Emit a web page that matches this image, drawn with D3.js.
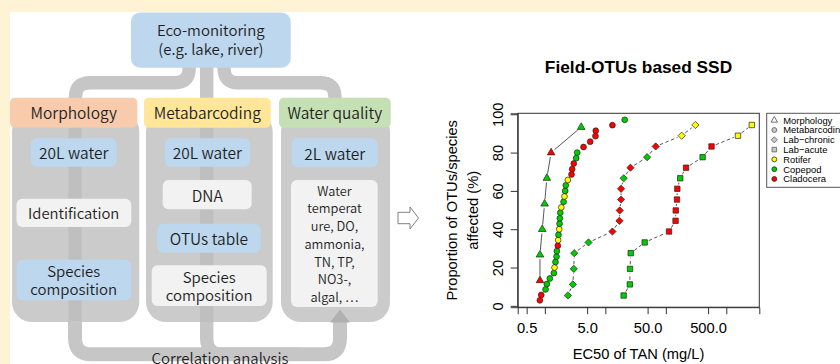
<!DOCTYPE html>
<html><head><meta charset="utf-8">
<script src="https://cdn.jsdelivr.net/npm/d3@7"></script>
<style>
html,body{margin:0;padding:0;background:#fff3d6;}
svg{display:block;}
</style></head><body>
<svg id="fig" width="840" height="364"></svg>
<script>
// ---- SSD data: EC50 of total ammonia nitrogen (mg/L) vs. proportion affected (%) ----
const morphEC50 = [0.83, 0.83, 0.906, 0.99, 1.08, 1.27, 3.99];
const morphPct  = [13.3, 26.7, 40.0, 53.3, 66.7, 80.0, 93.3];
const morphGroup = ["Cladocera","Copepod","Copepod","Copepod","Copepod","Cladocera","Copepod"];

const metaEC50 = [0.827,0.872,1.027,1.079,1.21,1.41,1.446,1.50,1.56,1.58,1.64,1.66,1.68,1.73,1.75,1.77,1.80,1.87,
                  2.04,2.11,2.17,2.22,2.40,2.76,2.83,3.01,3.30,3.43,4.36,5.62,6.87,6.95,13.1,20.9];
const metaPct  = [2.9,5.7,8.6,11.4,14.3,17.1,20.0,22.9,25.7,28.6,31.4,34.3,37.1,40.0,42.9,45.7,48.6,51.4,
                  54.3,57.1,60.0,62.9,65.7,68.6,71.4,74.3,77.1,80.0,82.9,85.7,88.6,91.4,94.3,97.1];
const metaGroup = ["Cladocera","Cladocera","Copepod","Copepod","Copepod","Copepod","Rotifer","Copepod","Copepod",
                   "Copepod","Cladocera","Rotifer","Copepod","Rotifer","Copepod","Copepod","Copepod","Rotifer",
                   "Copepod","Rotifer","Copepod","Copepod","Rotifer","Cladocera","Cladocera","Cladocera","Copepod",
                   "Copepod","Cladocera","Cladocera","Cladocera","Cladocera","Cladocera","Copepod"];

const chronicEC50 = [2.40, 2.90, 3.01, 3.06, 5.27, 13.1, 17.1, 17.3, 18.2, 18.2, 20.1, 26.0, 49.0, 68.0, 183, 308];
const acuteEC50   = [20.1, 25.4, 25.6, 26.3, 44.7, 113, 145, 146, 153, 155, 173, 216, 406, 570, 1560, 2640];
const labPct      = [5.4, 11.2, 19.3, 27.5, 33.1, 38.8, 44.4, 49.8, 55.5, 61.1, 66.6, 72.1, 77.6, 83.2, 88.8, 94.4];
const labGroup    = ["Copepod","Copepod","Copepod","Copepod","Copepod","Cladocera","Cladocera","Cladocera",
                     "Cladocera","Cladocera","Copepod","Cladocera","Copepod","Cladocera","Rotifer","Rotifer"];

const xTicks = [0.5, 1, 5, 10, 50, 100, 500, 1000];
const xTickLabels = ["0.5", "", "5.0", "", "50.0", "", "500.0", ""];
const yTicks = [0, 20, 40, 60, 80, 100];
const legendLabels = ["Morphology", "Metabarcoding", "Lab\u2212chronic", "Lab\u2212acute", "Rotifer", "Copepod", "Cladocera"];
const groupColor = {Rotifer: "#ffff00", Copepod: "#00cd00", Cladocera: "#ff0000"};

const svg = d3.select("#fig");
const FLOW_FONT = "'Noto Sans CJK SC', 'Noto Sans', sans-serif";
const PLOT_FONT = "'Liberation Sans', Arial, sans-serif";
const textCol = "#1e1e1e";

// ---------- workflow diagram ----------
svg.append("rect").attr("x", 10).attr("y", 12).attr("width", 830).attr("height", 352).attr("fill", "#ffffff");

const flow = svg.append("g");
const connCol = "#c6c6c6", panelCol = "#cbcbcb", bandCol = "#bfbfbf";

// branches from the monitoring box to the three methods
flow.append("rect").attr("x", 200).attr("y", 66).attr("width", 13.4).attr("height", 33).attr("fill", connCol);
flow.append("path").attr("d", "M189.2,64 V68 Q189.2,82.7 175,82.7 H90 Q75.5,82.7 75.5,97 V100")
  .attr("fill", "none").attr("stroke", connCol).attr("stroke-width", 13.4);
flow.append("path").attr("d", "M224,64 V68 Q224,82.7 238,82.7 H320 Q335,82.7 335,97 V100")
  .attr("fill", "none").attr("stroke", connCol).attr("stroke-width", 13.4);

// correlation loop along the bottom
flow.append("path").attr("d", "M75,315 V338 Q75,354.3 91.3,354.3 H324 Q340,354.3 340,338 V318")
  .attr("fill", "none").attr("stroke", connCol).attr("stroke-width", 14);
flow.append("path").attr("d", "M206.7,315 V338 Q206.7,354.3 223,354.3 H300")
  .attr("fill", "none").attr("stroke", connCol).attr("stroke-width", 13.4);

// column panels
const panels = [[12, 139.3], [146, 272.7], [281, 390]];
panels.forEach(([x0, x1]) => {
  flow.append("rect").attr("x", x0).attr("y", 112).attr("width", x1 - x0).attr("height", 210)
    .attr("rx", 20).attr("fill", panelCol);
});
// flow bands running through the sample-processing columns
flow.append("rect").attr("x", 68.3).attr("y", 120).attr("width", 13.4).attr("height", 202).attr("fill", bandCol);
flow.append("rect").attr("x", 200).attr("y", 120).attr("width", 13.4).attr("height", 202).attr("fill", bandCol);
flow.append("rect").attr("x", 68.3).attr("y", 321).attr("width", 13.4).attr("height", 4).attr("fill", connCol);

// up arrow into the water-quality column
flow.append("polygon").attr("points", "330,322.5 340,309.5 350,322.5").attr("fill", "#b0b0b0");

// monitoring box
flow.append("rect").attr("x", 131).attr("y", 12.5).attr("width", 159.7).attr("height", 55.2).attr("rx", 9).attr("fill", "#bdd7ee");

// method headers
const headers = [
  {x0: 10, x1: 137.3, fill: "#f8cbad", label: "Morphology"},
  {x0: 144, x1: 270.7, fill: "#ffe699", label: "Metabarcoding"},
  {x0: 279, x1: 390.7, fill: "#c5e0b4", label: "Water quality"}
];
headers.forEach(h => {
  flow.append("rect").attr("x", h.x0).attr("y", 97.7).attr("width", h.x1 - h.x0).attr("height", 30)
    .attr("rx", 5).attr("fill", h.fill);
});

// inner boxes
const boxes = [
  {x0: 30.7, x1: 116.7, y0: 138.3, y1: 166.7, fill: "#bdd7ee"},
  {x0: 16.5, x1: 131.3, y0: 198.7, y1: 227, fill: "#f2f2f2"},
  {x0: 16.5, x1: 131.3, y0: 259.7, y1: 300.3, fill: "#bdd7ee"},
  {x0: 164.7, x1: 250, y0: 138.3, y1: 166.7, fill: "#bdd7ee"},
  {x0: 162.7, x1: 251.7, y0: 180, y1: 209.3, fill: "#f2f2f2"},
  {x0: 157.3, x1: 260.7, y0: 223.7, y1: 252.7, fill: "#bdd7ee"},
  {x0: 151.7, x1: 266.7, y0: 265.3, y1: 306, fill: "#f2f2f2"},
  {x0: 291.7, x1: 377.7, y0: 138.3, y1: 167.3, fill: "#bdd7ee"},
  {x0: 291, x1: 377.7, y0: 180, y1: 307, fill: "#f2f2f2"}
];
boxes.forEach(b => {
  flow.append("rect").attr("x", b.x0).attr("y", b.y0).attr("width", b.x1 - b.x0).attr("height", b.y1 - b.y0)
    .attr("rx", 6).attr("fill", b.fill);
});

// diagram text
const flowText = [
  [210.8, 35.7, "Eco-monitoring", 15], [210.8, 55, "(e.g. lake, river)", 15],
  [73.7, 119, "Morphology", 15.5], [207.3, 119, "Metabarcoding", 15.5], [334.8, 119, "Water quality", 15.5],
  [73.7, 159, "20L water", 15.5], [207.3, 159, "20L water", 15.5], [334.7, 159.8, "2L water", 15.5],
  [73.7, 219, "Identification", 14.8], [73.7, 277, "Species", 15], [73.7, 295, "composition", 15],
  [207.2, 202, "DNA", 15.5], [209, 245.2, "OTUs table", 15.5],
  [209.2, 282.5, "Species", 15], [209.2, 301, "composition", 15],
  [334.5, 195.5, "Water", 12.8], [334.5, 213.2, "temperat", 12.8], [334.5, 231, "ure, DO,", 12.8],
  [334.5, 248.8, "ammonia,", 12.8], [334.5, 266.5, "TN, TP,", 12.8], [334.5, 284.3, "NO3-,", 12.8],
  [334.5, 302, "algal, \u22ef", 12.8],
  [220, 364.3, "Correlation analysis", 15]
];
flowText.forEach(([x, y, t, fs]) => {
  flow.append("text").attr("x", x).attr("y", y).attr("text-anchor", "middle")
    .attr("font-family", FLOW_FONT).attr("font-weight", 350).attr("font-size", fs).attr("fill", textCol).text(t);
});

// hollow arrow pointing to the SSD plot
flow.append("polygon").attr("points", "398,212.3 410,212.3 410,207 418.5,218 410,229 410,223.7 398,223.7")
  .attr("fill", "#ffffff").attr("stroke", "#808080").attr("stroke-width", 1);

// ---------- SSD plot ----------
const plotL = 517.7, plotR = 759.3, plotT = 113.3, plotB = 307.2;
const xLim = [0.5, 2500];
const lx = xLim.map(Math.log10), padX = (lx[1] - lx[0]) * 0.04;
const x = d3.scaleLog().domain([Math.pow(10, lx[0] - padX), Math.pow(10, lx[1] + padX)]).range([plotL, plotR]);
const y = d3.scaleLinear().domain([-0.7, 100.5]).range([plotB, plotT]);

const plot = svg.append("g").attr("font-family", PLOT_FONT);

plot.append("text").attr("x", (plotL + plotR) / 2).attr("y", 73.3).attr("text-anchor", "middle")
  .attr("font-size", 17.3).attr("font-weight", "bold").attr("fill", "#000").text("Field-OTUs based SSD");

const xAxis = d3.axisBottom(x).tickValues(xTicks).tickFormat((d, i) => xTickLabels[i]).tickSizeOuter(0).tickSize(7).tickPadding(3);
const gx = plot.append("g").attr("transform", `translate(0,${plotB})`).call(xAxis);
gx.selectAll("text").attr("font-size", 14.7).attr("font-family", PLOT_FONT).attr("fill", "#000").attr("dy", null).attr("y", 25.5);
gx.selectAll("line").attr("stroke", "#333");
gx.select(".domain").attr("stroke", "#333");

const yAxis = d3.axisLeft(y).tickValues(yTicks).tickSizeOuter(0).tickSize(7);
const gy = plot.append("g").attr("transform", `translate(${plotL},0)`).call(yAxis);
gy.selectAll("text").attr("font-size", 14.7).attr("font-family", PLOT_FONT).attr("fill", "#000")
  .attr("transform", "rotate(-90)").attr("x", 0).attr("y", -14.7).attr("dy", null).attr("text-anchor", "middle");
gy.selectAll("line").attr("stroke", "#333");
gy.select(".domain").attr("stroke", "#333");

plot.append("rect").attr("x", plotL).attr("y", plotT).attr("width", plotR - plotL).attr("height", plotB - plotT)
  .attr("fill", "none").attr("stroke", "#333").attr("stroke-width", 1);

plot.append("text").attr("x", (plotL + plotR) / 2).attr("y", 359).attr("text-anchor", "middle")
  .attr("font-size", 14.7).attr("fill", "#000").text("EC50 of TAN (mg/L)");
const yLabelCenter = (plotT + plotB) / 2;
[["Proportion of OTUs/species", 456.5], ["affected (%)", 477.5]].forEach(([t, bx]) => {
  plot.append("text").attr("transform", `translate(${bx},${yLabelCenter}) rotate(-90)`).attr("text-anchor", "middle")
    .attr("font-size", 14.7).attr("fill", "#000").text(t);
});

// connecting lines with gaps around the points
function gappedLine(xs, ys, dash) {
  const gap = 4.5;
  for (let i = 0; i < xs.length - 1; i++) {
    const x0 = x(xs[i]), y0 = y(ys[i]), x1 = x(xs[i + 1]), y1 = y(ys[i + 1]);
    const L = Math.hypot(x1 - x0, y1 - y0);
    if (L <= 2 * gap) continue;
    const ux = (x1 - x0) / L, uy = (y1 - y0) / L;
    plot.append("line")
      .attr("x1", x0 + ux * gap).attr("y1", y0 + uy * gap)
      .attr("x2", x1 - ux * gap).attr("y2", y1 - uy * gap)
      .attr("stroke", "#444").attr("stroke-width", 0.9)
      .attr("stroke-dasharray", dash);
  }
}
gappedLine(morphEC50, morphPct, null);
gappedLine(chronicEC50, labPct, "3.5,2.5");
gappedLine(acuteEC50, labPct, "3.5,2.5");

const shapes = {
  triangle: "M0,-4.3 L3.8,2.3 L-3.8,2.3 Z",
  diamond: "M0,-3.6 L3.6,0 L0,3.6 L-3.6,0 Z",
  square: "M-2.7,-2.7 H2.7 V2.7 H-2.7 Z",
  circle: d3.symbol(d3.symbolCircle, Math.PI * 2.9 * 2.9)()
};
function points(xs, ys, groups, shape) {
  plot.append("g").selectAll("path").data(xs.map((v, i) => ({v, p: ys[i], g: groups[i]})))
    .join("path")
    .attr("transform", d => `translate(${x(d.v)},${y(d.p)})`)
    .attr("d", shapes[shape])
    .attr("fill", d => groupColor[d.g])
    .attr("stroke", "#222").attr("stroke-width", 0.7);
}
points(metaEC50, metaPct, metaGroup, "circle");
points(chronicEC50, labPct, labGroup, "diamond");
points(acuteEC50, labPct, labGroup, "square");
points(morphEC50, morphPct, morphGroup, "triangle");

// legend
const lg = plot.append("g");
lg.append("rect").attr("x", 766.7).attr("y", 113.3).attr("width", 90).attr("height", 74)
  .attr("fill", "#fff").attr("stroke", "#555").attr("stroke-width", 1);
const legendSym = [
  {shape: "triangle", fill: "none", stroke: "#444"},
  {shape: "circle", fill: "#c8c8c8", stroke: "#555"},
  {shape: "diamond", fill: "#c8c8c8", stroke: "#555"},
  {shape: "square", fill: "#c8c8c8", stroke: "#555"},
  {shape: "circle", fill: groupColor.Rotifer, stroke: "#222"},
  {shape: "circle", fill: groupColor.Copepod, stroke: "#222"},
  {shape: "circle", fill: groupColor.Cladocera, stroke: "#222"}
];
legendLabels.forEach((t, i) => {
  const cy = 120.2 + i * 9.8;
  lg.append("path").attr("transform", `translate(774.3,${cy}) scale(0.85)`).attr("d", shapes[legendSym[i].shape])
    .attr("fill", legendSym[i].fill).attr("stroke", legendSym[i].stroke).attr("stroke-width", 0.9);
  lg.append("text").attr("x", 783.3).attr("y", cy + 3.4).attr("font-size", 9.4).attr("fill", "#000").text(t);
});
</script>
</body></html>
